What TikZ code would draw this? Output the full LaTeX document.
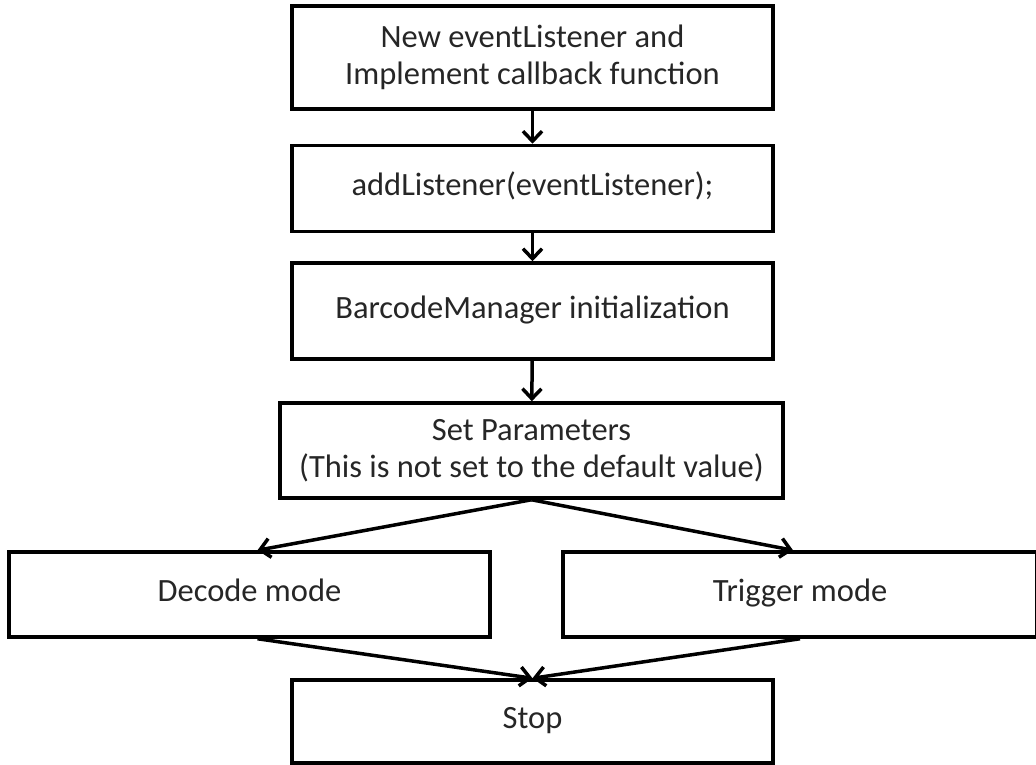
\documentclass[tikz,border=0pt]{standalone}
\usepackage{fontspec}
\setmainfont{Carlito}
\usetikzlibrary{arrows.meta}
\tikzset{
  block/.style={rectangle, draw, line width=3.5pt, minimum width=481pt, text=black!85, align=center, font=\fontsize{32.5}{37}\selectfont},
  flow/.style={line width=3.5pt, -{Straight Barb[length=10pt,width=19pt,line width=3.5pt]}}
}
\begin{document}
\begin{tikzpicture}[x=1pt, y=-1pt]
  \useasboundingbox (0,0) rectangle (1036,765);
  % Nodes
  \node (new-listener) [block, minimum height=103pt] at (532.5, 57.5) {New eventListener and\\Implement callback function};
  \node (add-listener) [block, minimum height=86pt] at (532.5, 188.5) {\strut addListener(eventListener);};
  \node (manager-init) [block, minimum height=96pt] at (532.5, 311) {\strut BarcodeManager initialization};
  \node (set-params) [block, minimum width=503pt, minimum height=95pt] at (531.5, 450.5) {Set Parameters\\(This is not set to the default value)};
  \node (decode-mode) [block, minimum height=85pt] at (249.5, 594.5) {\strut Decode mode};
  \node (trigger-mode) [block, minimum width=474pt, minimum height=85pt] at (800, 594.5) {\strut Trigger mode};
  \node (stop) [block, minimum height=83pt] at (532.5, 721.5) {\strut Stop};
  % Arrows
  \draw[flow] (new-listener) -- (add-listener);
  \draw[flow] (add-listener) -- (manager-init);
  \draw[flow] (manager-init) -- (set-params);
  \draw[flow] (set-params.south) -- ([xshift=8pt]decode-mode.north);
  \draw[flow] (set-params.south) -- ([xshift=-7pt]trigger-mode.north);
  \draw[flow] ([xshift=8pt]decode-mode.south) -- (stop.north);
  \draw[flow] (trigger-mode.south) -- (stop.north);
\end{tikzpicture}
\end{document}
